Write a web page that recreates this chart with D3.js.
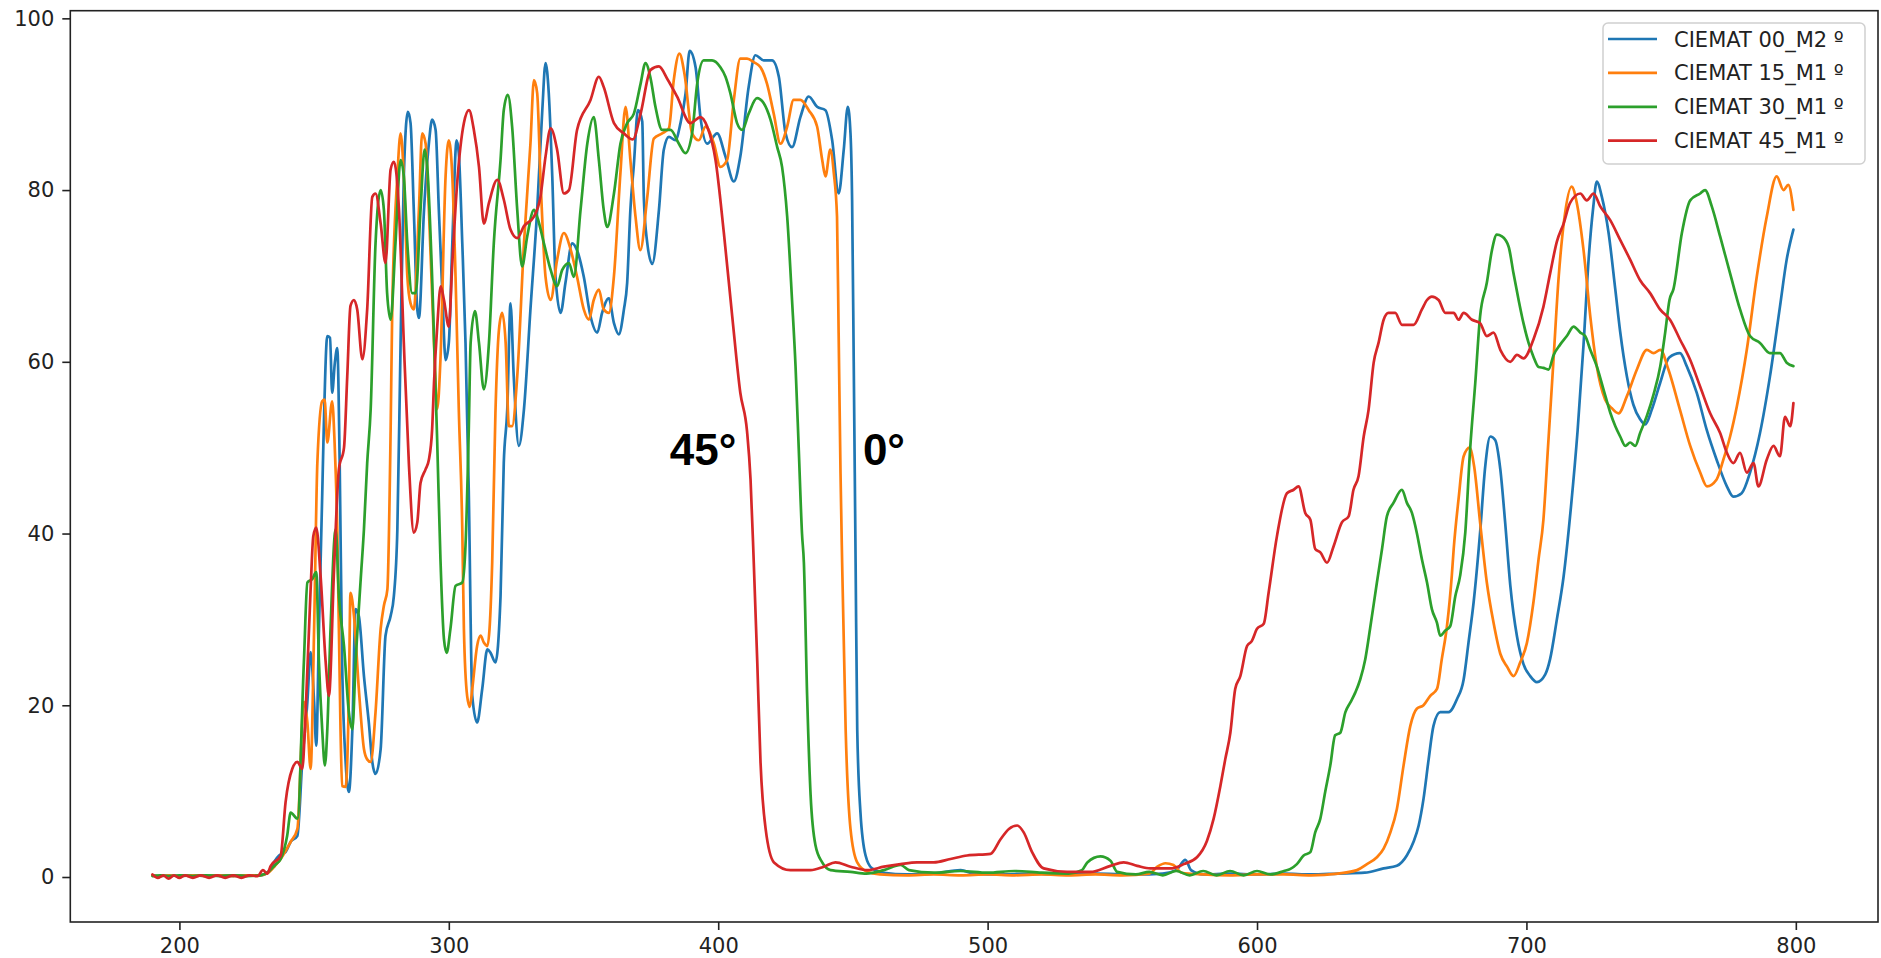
<!DOCTYPE html>
<html>
<head>
<meta charset="utf-8">
<script src="https://cdn.jsdelivr.net/npm/d3@7"></script>
<style>
  body { margin: 0; background: #fff; }
  svg { display: block; }
</style>
</head>
<body>
<script>
var w = 1881;
var h = 958;

// tick values
var xTicks = [200, 300, 400, 500, 600, 700, 800];
var yTicks = [0, 20, 40, 60, 80, 100];

var seriesNames = ["CIEMAT 00_M2 º", "CIEMAT 15_M1 º", "CIEMAT 30_M1 º", "CIEMAT 45_M1 º"];
var seriesColors = ["#1f77b4", "#ff7f0e", "#2ca02c", "#d62728"];

// [wavelength, transmittance]
var ciemat00 = [[190,0.2],[193,0.1],[196,0.2],[200,0.1],[205,0.2],[210,0.1],[215,0.2],[220,0.1],[225,0.2],[230,0.2],[233,0.6],[235,1.7],[237,2.5],[239.4,2.9],[241.3,4.1],[243.8,4.8],[245.6,13.4],[247.5,20.4],[248.7,26.2],[250,20.4],[250.8,15.3],[251.8,28.9],[253,44.4],[253.6,52.5],[254.9,63],[255.9,62.8],[256.7,56.4],[257.7,59.9],[258.6,61.6],[259.5,48],[260.4,25],[261.7,13.4],[262.9,9.9],[264.2,17.2],[265.4,31.2],[266.6,30.4],[268.5,23.4],[270.3,18],[271.6,13.4],[272.8,12],[274.7,14.9],[276.5,28.1],[278.4,30.4],[279.6,32.7],[280.9,40.5],[282.1,62.2],[283.3,81.6],[284.8,89.1],[285.8,87.8],[287,77.7],[288.3,66.1],[288.9,65.1],[290.8,77.7],[292.6,85.4],[293.8,88.2],[295.1,87],[296.3,77.7],[297.6,68],[298.8,60.2],[300,62.2],[301.3,73.8],[302.9,85.8],[303.7,84.3],[305,73.8],[306.2,62.2],[307.4,45],[308.7,21.1],[310.5,18],[312.4,21.9],[314.3,26.5],[315.5,26.1],[317.3,25],[319.2,32.7],[320.4,48.2],[321.7,54.5],[322.9,66.8],[324.1,58.3],[326,50.2],[327.9,54.5],[330.3,66.1],[332.8,77.7],[334.7,89.3],[335.9,94.8],[337.1,91.3],[338.4,81.6],[339.6,69.9],[341.5,65.7],[343.3,69.2],[345.8,73.8],[347.6,73],[350.1,69.9],[352.6,65.3],[355.1,63.4],[356.9,65.7],[359.4,67.4],[361.3,64.5],[363.1,63.2],[365,66.1],[366.2,69.2],[367.4,77.7],[368.7,83],[370.2,89.3],[371.8,88],[372.4,79],[373.6,74],[375.5,71.4],[378,77.7],[379.8,84.7],[381.7,86.2],[384.1,85.8],[386,87.8],[387.9,91.3],[389.4,96.2],[391.6,94.3],[393.4,88.5],[395.9,85.4],[399.6,86.6],[402.7,83.9],[405.8,81],[408.2,83.9],[411.3,92],[413.8,95.7],[416.9,95.1],[420,95.1],[422.5,93.2],[425,86.6],[427.4,85],[430.5,88.5],[433.6,90.9],[436.7,89.7],[439.8,89.3],[442.3,85.8],[444.7,79.6],[446.6,84.7],[448.1,89.7],[449.1,86.6],[449.7,78.8],[450.3,60],[451,36.6],[451.6,17.2],[452.8,7.5],[454.7,2.5],[457.1,1.0],[461.5,0.5],[470,0.3],[480,0.4],[490,0.8],[495,0.4],[505,0.3],[515,0.4],[525,0.3],[540,0.4],[555,0.3],[565,0.4],[570,0.8],[573.4,2.0],[575.5,0.8],[580,0.3],[590,0.4],[600,0.3],[610,0.4],[620,0.3],[630,0.4],[640,0.5],[647,1.0],[651.9,1.3],[655.6,2.5],[658.1,4.1],[660,6],[661.8,9.1],[663.7,13.7],[665.5,17.6],[668,19.2],[671.1,19.2],[674.2,20.7],[676.7,23],[678.5,27.3],[680.4,32],[682.8,40.1],[684.7,47.8],[686.6,51.3],[688.4,50.9],[690.3,47.5],[692.1,41.3],[694,34],[696.5,28],[698.9,24.8],[701.4,23.4],[703.9,22.7],[707,23.6],[708.8,25.4],[711.3,30],[713.8,35],[716.5,43],[719,52],[721.2,62],[723.1,72],[724.8,78],[726.1,81],[728,79.2],[730.5,75],[733,68.4],[734.8,63.5],[737.3,58.3],[739.7,55],[742.2,53.3],[744.1,52.7],[746.5,54.4],[749.6,57.5],[753,60.5],[757,61],[759.5,59.5],[763.2,56.4],[766.9,52.1],[770.6,48.6],[774.4,45.5],[776.8,44.3],[779.9,44.7],[783,47.1],[786.7,51.7],[790.4,58.3],[794.1,66.4],[796.6,71.9],[799.1,75.4]];

var ciemat15 = [[190,0.2],[193,0.1],[196,0.2],[200,0.1],[205,0.2],[210,0.1],[215,0.2],[220,0.1],[225,0.2],[230,0.2],[233,0.5],[235.5,1.3],[237.6,2.1],[241.3,4.1],[243.8,5.6],[246.2,20.4],[247.5,18],[248.7,12.6],[250,28.9],[251.2,48.2],[253,55.4],[253.9,55.6],[254.9,50.6],[256.7,55.4],[257.6,50.6],[258.6,40.5],[259.8,17.2],[260.4,10.6],[261.7,10.5],[262.9,21.1],[263.5,33.1],[264.8,30.4],[266.6,21.9],[268.5,14.9],[269.7,13.7],[271,13.4],[272.8,19.2],[274.7,28.9],[275.9,31.6],[277.2,33.5],[278.4,52],[279,66.1],[280.9,81.6],[282.1,86.6],[283.3,81.6],[284.6,70],[285.8,66.8],[287,66.1],[288.9,77.7],[290.1,86.6],[291.4,85.4],[292.6,77.7],[294.5,62.2],[295.7,54.5],[296.9,60.3],[298.8,81.6],[300,85.8],[301.3,81.6],[302.5,69.9],[303.7,54.5],[305,40.5],[305.6,28.9],[306.8,21.1],[307.8,19.8],[308.7,21.9],[310.5,26.9],[311.8,28.1],[313,27.3],[314.3,26.9],[316.1,36.6],[317.3,54],[318.6,63.7],[319.8,65.7],[321.1,62.2],[322.3,52.5],[323.5,52.5],[325.4,58.3],[327.9,73.8],[330.3,85.4],[331.6,92.8],[332.8,91.3],[334,81.6],[335.9,69.9],[337.8,67.2],[340.2,71.9],[342.7,75],[345.2,73.1],[347.6,69.9],[350.1,66.1],[352,64.9],[353.8,67.2],[355.7,68.4],[357.5,66.1],[359.4,65.7],[361.3,70],[363.7,82],[365.6,89.7],[367.4,83.5],[369.3,76.9],[371.1,73],[373.6,79],[376.1,86],[379.2,86.6],[381.7,87.2],[383.5,92.8],[385.6,95.9],[387.5,93.5],[390.3,86.6],[392.8,85.8],[395.3,87.4],[398.4,85.4],[400.8,82.7],[403.3,83.5],[405.8,90.5],[408.2,95.3],[410.7,95.3],[413.2,94.9],[415.7,94.3],[418.1,92.4],[420.6,88.9],[423.1,85.4],[425.6,87.4],[428,90.5],[430.5,90.5],[433.6,89.3],[436.7,87.4],[438.6,83.5],[439.8,81.6],[441.6,84.7],[442.9,82],[444.1,76.9],[444.7,63.3],[445.4,47],[446,36.6],[447.3,17.2],[449.1,5.6],[451.6,1.7],[455.3,0.6],[460,0.3],[470,0.2],[480,0.3],[490,0.2],[500,0.3],[510,0.2],[520,0.3],[530,0.2],[540,0.3],[550,0.2],[560,0.4],[563,1.2],[566,1.6],[569,1.4],[572,0.5],[580,0.3],[590,0.2],[600,0.3],[610,0.3],[620,0.2],[630,0.4],[637.1,0.8],[640.8,1.5],[644.5,2.3],[647,3.3],[649.5,5.2],[651.9,7.9],[654.4,13],[656.9,17.6],[659.3,19.6],[661.8,20],[664.3,21.1],[666.8,21.9],[668.6,25.4],[670.5,29.2],[672.3,35.1],[673,38.2],[674.8,44],[676.7,49],[678.9,50],[680.6,47.8],[682.8,41.3],[685.3,34.3],[687.8,29.6],[690.3,26],[692.8,24.5],[695.2,23.4],[697.7,25],[700.2,27.3],[702.6,32],[704.5,37],[706.3,41.6],[708,50],[710,60],[712,70],[714,76.5],[716.8,80.4],[718.7,78.5],[721.2,73],[723.7,65.3],[726.1,59.5],[729.2,55.6],[731.7,54.6],[734.2,54],[737.3,56],[741,59.1],[744.7,61.4],[747.2,61],[749.7,61.4],[752.7,59.1],[757,54.4],[760.8,50.2],[764.5,47.1],[767,45.5],[770.6,46.3],[773.1,48.6],[775.6,51.3],[778.1,54.8],[781.8,61.4],[785.5,69.9],[789.2,76.9],[792.9,81.6],[795.4,80],[797.2,80.6],[799.1,77.7]];

var ciemat30 = [[190,0.1],[193,0.2],[196,0.1],[200,0.2],[205,0.1],[210,0.2],[215,0.1],[220,0.2],[225,0.1],[230,0.2],[233,0.6],[235.5,1.4],[237.6,2.1],[240,4.8],[241.3,7.5],[243.8,6.8],[246.2,25],[247.5,34.3],[249.3,34.7],[250.8,35.5],[251.8,25],[253,17.2],[254,13],[254.9,17.2],[256.1,28.9],[258,40.5],[259.2,32.7],[261.1,26.9],[262.9,19.2],[264.2,17.2],[265.4,25],[267.3,34.7],[268.5,40.5],[269.7,48.2],[271,54.5],[272.8,73.8],[274.7,80],[275.9,77.7],[277.1,68],[278.4,64.9],[280.2,73.8],[282.1,83.5],[283.3,81.6],[284.6,73.8],[286.4,68],[287.7,68],[289.5,77.7],[291,84.7],[292,82.7],[293.8,69.9],[295.7,50.6],[296.9,37],[298.2,27.7],[299.2,26.1],[300.6,28.9],[302.5,33.9],[305,34.3],[306.2,38.6],[307.4,52],[308.1,62.2],[309.7,65.9],[311.2,62.2],[313,56.8],[314.9,62.2],[316.7,73.8],[319.2,83.5],[320.4,89.3],[321.9,91.1],[323.5,87.4],[325.4,77.7],[327.2,71.1],[329.1,74.6],[331.6,77.7],[332.8,76.9],[335.3,73.8],[337.8,70.7],[340.2,68.8],[342.1,70.7],[344.6,71.5],[346.4,69.9],[348.9,77.7],[351.4,85.4],[353.8,88.5],[355.7,83.5],[357.5,77.7],[358.8,75.7],[361.3,79.6],[363.7,85.4],[366.2,87.8],[368.7,88.9],[371.2,92.4],[373,94.8],[374.9,93],[376.7,89.7],[379.2,87],[382.3,87],[385.4,85.4],[387.8,84.3],[390.3,86.6],[392.2,92.4],[394.6,95.1],[397.7,95.1],[400.8,94.3],[402.7,93.2],[404.5,91.3],[407,87.8],[408.9,87],[411.3,88.9],[414.4,90.7],[416.9,90.1],[419.4,88.2],[421.9,85],[423.7,82.7],[425.6,76.9],[427.4,67.2],[428.7,59.5],[429.9,49.8],[431.1,40],[431.8,36.6],[433,21.1],[434.3,9.5],[436.1,3.7],[438.6,1.7],[441.7,0.8],[449.1,0.6],[455,0.4],[461.5,0.8],[467.7,1.4],[470.8,0.8],[480,0.5],[490,0.7],[500,0.5],[510,0.7],[520,0.5],[530,0.4],[535,0.8],[537,1.7],[541.9,2.4],[545.6,1.9],[548.1,0.6],[555,0.3],[560,0.6],[565,0.2],[570,0.7],[575,0.2],[580,0.7],[585,0.2],[590,0.7],[595,0.2],[600,0.7],[605,0.3],[610,0.7],[612.4,0.95],[614.8,1.5],[617.3,2.5],[619.8,2.9],[621.6,5.2],[623.5,6.8],[625.3,9.9],[627.2,13],[629,16.5],[630.9,16.8],[632.8,19.2],[634.6,20.3],[636.5,21.5],[638.3,23],[640.2,25.4],[642,29],[644.5,34.3],[646.4,38.2],[648.2,42],[650.7,43.6],[653.8,45.1],[655.6,43.6],[657.5,42.4],[659.3,40.1],[661.2,37],[663.1,34.3],[664.9,31.2],[666.8,29.6],[668,28.1],[669.9,28.7],[671.7,29.2],[673.6,32.7],[675.4,35.1],[677.3,40.1],[679.1,49.8],[681,57.5],[682.8,65.3],[685.3,69.2],[687.2,73],[689,74.8],[690.9,74.6],[693.4,73.4],[695.2,70.3],[697.1,67.2],[698.9,64.5],[700.8,62.2],[702.6,60.6],[704.5,59.4],[706.3,59.3],[708.2,59.1],[710.1,60.8],[712.5,62],[715,63],[717.5,64.1],[720,63.4],[721.8,63],[723.7,61.4],[726.1,59.5],[728.6,56.8],[731.1,54.1],[733,52.5],[734.8,51.3],[736.7,50.2],[738.5,50.6],[740.4,50.2],[742.2,51.7],[744.7,53.7],[747.2,56.2],[749.7,59.5],[751.5,63.4],[753.1,67.2],[754.6,68.5],[757.7,75],[760.8,78.8],[764.5,79.6],[766.3,80],[768.8,78.1],[771.9,74.6],[775.6,70.3],[779.3,66.1],[783,63],[786.7,62.2],[790.4,61],[794.1,61],[796.6,59.9],[799.1,59.5]];

var ciemat45 = [[190,0.3],[192,-0.1],[194,0.2],[196,-0.2],[198,0.2],[200,-0.1],[202,0.2],[205,-0.1],[208,0.2],[211,-0.1],[214,0.2],[217,-0.1],[220,0.2],[223,-0.1],[226,0.2],[229,0.1],[231,0.8],[232.6,0.4],[233.9,1.3],[237.6,2.5],[239.4,8.7],[241.9,12.6],[243.8,13.4],[245.6,12.6],[246.8,18.8],[248.7,33.5],[249.7,39.7],[250.8,40.7],[252.4,35.1],[254.3,25],[255.5,21.1],[257.4,35.8],[259.2,47.5],[261.1,50],[262.3,58.3],[263.5,66.5],[264.8,67.2],[266,66.1],[267.9,60.3],[269.7,66.1],[271.6,79.2],[272.8,79.6],[274.7,76.1],[276.5,71.5],[278.4,82.4],[279.6,83.3],[281.5,77.7],[283.3,62.2],[285.2,48],[287,40.1],[288.3,41.3],[289.5,45.9],[291.4,47.5],[292.6,48.6],[293.8,52.1],[294.5,57.5],[295.7,64.1],[297,68.8],[298.2,67.2],[300,64.1],[301.3,71.5],[303.1,80.8],[305.6,87.8],[307.5,89.3],[309.3,87],[311.2,82.7],[313,76.1],[314.9,78.5],[318,81.2],[320.4,78.9],[322.9,75.4],[325.4,74.4],[327.9,75.8],[331.6,76.9],[334,79.2],[335.9,83.9],[337.8,87.2],[340.2,84.7],[342.7,79.6],[344.6,80],[347.6,87],[352.6,90.5],[355.7,93.2],[357.5,92],[361.3,87.8],[365,86.6],[368.3,85.9],[371.2,88.9],[374.9,94],[378,94.4],[381,93],[384.7,90.9],[389.7,87.8],[393.4,88.5],[395.9,87.4],[399,83.5],[402.1,75],[405.2,65.3],[408.2,56.4],[410.7,51.9],[412,46.3],[413.2,36.6],[414.5,25],[415.7,13.4],[417.6,5.6],[420.7,1.7],[426.8,0.8],[434.3,0.8],[439.2,1.2],[443.5,1.7],[449.1,1.2],[455.3,0.8],[461.5,1.2],[467.7,1.5],[473.8,1.7],[480,1.7],[486.2,2.1],[492.4,2.5],[501.1,2.7],[504.8,4.4],[507.9,5.6],[511,6.0],[513.4,5.2],[516.5,2.9],[520.8,1],[529.5,0.6],[538.2,0.6],[545.6,1.3],[550.5,1.7],[555.5,1.3],[560.4,1],[567.8,1],[572.8,1.5],[577.7,2.3],[581.4,4.2],[583.9,6.8],[586.4,10.6],[588.2,13.7],[590.1,16.8],[591.9,21.9],[593.8,23.4],[596.3,26.9],[598.1,27.5],[600,28.9],[602.5,29.5],[604.3,33.1],[607.4,39.7],[611.1,44.7],[613.6,45.1],[615.4,45.5],[617.9,42.4],[619.8,41.6],[621.6,38.2],[623.5,37.8],[626,36.6],[628.4,38.5],[631.5,41.3],[634,42],[635.8,45.1],[637.7,46.7],[639.6,51.3],[641.4,54.4],[643.3,59.9],[645.1,62.2],[647,64.9],[648.8,65.7],[651.3,65.7],[653.8,64.3],[658.1,64.3],[661.2,66.1],[663.1,67.2],[664.9,67.6],[667.4,67.2],[669.9,65.7],[673,65.7],[674.8,64.9],[676.7,65.7],[679.8,64.9],[682.8,64.5],[685.3,63],[687.8,63.4],[690.3,61.4],[694,60],[696.5,60.8],[698.9,60.4],[702.6,62.6],[706.3,66.4],[708.8,70.3],[711.3,74],[713.8,76.1],[716.2,78.5],[720,79.6],[722.4,78.8],[724.9,79.6],[727.4,78.1],[731.1,76.5],[734.8,74.2],[738.5,71.9],[742.2,69.5],[745.9,68],[749.6,66.1],[753.3,64.9],[757,62.6],[760.8,60.2],[764.5,57.1],[768.2,54],[771.9,51.7],[774.4,49.4],[776.8,48.2],[779.3,49.4],[781.8,47.1],[784.3,48.2],[786.1,45.5],[789.2,48.6],[791.7,50.2],[794.1,49],[796,53.6],[797.9,52.5],[799.1,55.2]];

var allSeries = [ciemat00, ciemat15, ciemat30, ciemat45];

// angle labels written on the plot, placed in data units
var angleLabels = [{"text":"45°", "x":382, "y":48}, {"text":"0°", "x":453.7, "y":48}];

// plot box
var plotLeft = 70.3, plotRight = 1878, plotTop = 10.7, plotBottom = 922;

var svg = d3.select("body").append("svg")
            .attr("width", w)
            .attr("height", h);

svg.append("rect").attr("width", w).attr("height", h).attr("fill", "#fff");

var x = d3.scaleLinear().domain([159.5, 830.5]).range([plotLeft, plotRight]);
var y = d3.scaleLinear().domain([-5.24, 100.89]).range([plotBottom, plotTop]);

svg.append("clipPath").attr("id", "plotclip")
   .append("rect")
   .attr("x", plotLeft).attr("y", plotTop)
   .attr("width", plotRight - plotLeft).attr("height", plotBottom - plotTop);

var line = d3.line()
             .x(function(d){ return x(d[0]); })
             .y(function(d){ return y(d[1]); })
             .curve(d3.curveMonotoneX);

var lineGroup = svg.append("g").attr("clip-path", "url(#plotclip)");

lineGroup.selectAll("path")
         .data(allSeries)
         .enter()
         .append("path")
         .attr("d", line)
         .attr("fill", "none")
         .attr("stroke", function(d, i){ return seriesColors[i]; })
         .attr("stroke-width", 2.7)
         .attr("stroke-linejoin", "round")
         .attr("stroke-linecap", "round");

// axes
var xAxis = d3.axisBottom(x).tickValues(xTicks).tickSize(8).tickSizeOuter(0).tickPadding(8);
var yAxis = d3.axisLeft(y).tickValues(yTicks).tickSize(8).tickSizeOuter(0).tickPadding(8);

var gx = svg.append("g").attr("transform", "translate(0," + plotBottom + ")").call(xAxis);
var gy = svg.append("g").attr("transform", "translate(" + plotLeft + ",0)").call(yAxis);

[gx, gy].forEach(function(g){
  g.select(".domain").remove();
  g.selectAll(".tick line").attr("stroke", "#222").attr("stroke-width", 1.6);
  g.selectAll(".tick text")
   .attr("fill", "#222")
   .style("font-family", "'DejaVu Sans', sans-serif")
   .style("font-size", "21px");
});

// frame
svg.append("rect")
   .attr("x", plotLeft).attr("y", plotTop)
   .attr("width", plotRight - plotLeft).attr("height", plotBottom - plotTop)
   .attr("fill", "none")
   .attr("stroke", "#222")
   .attr("stroke-width", 1.6);

// angle labels
svg.selectAll(".angle")
   .data(angleLabels)
   .enter()
   .append("text")
   .attr("class", "angle")
   .attr("x", function(d){ return x(d.x); })
   .attr("y", function(d){ return y(d.y); })
   .style("font-family", "'Liberation Sans', Arial, sans-serif")
   .style("font-weight", "bold")
   .style("font-size", "44px")
   .attr("fill", "#000")
   .text(function(d){ return d.text; });

// legend
var legend = svg.append("g").attr("transform", "translate(1603,23)");

legend.append("rect")
      .attr("width", 262).attr("height", 141)
      .attr("rx", 5).attr("ry", 5)
      .attr("fill", "#fff").attr("fill-opacity", 0.8)
      .attr("stroke", "#d0d0d0").attr("stroke-width", 1.5);

var items = legend.selectAll(".item")
                  .data(seriesNames)
                  .enter()
                  .append("g")
                  .attr("class", "item")
                  .attr("transform", function(d, i){ return "translate(0," + (16 + i * 33.9) + ")"; });

items.append("line")
     .attr("x1", 5).attr("x2", 54)
     .attr("stroke", function(d, i){ return seriesColors[i]; })
     .attr("stroke-width", 2.7);

items.append("text")
     .attr("x", 71).attr("y", 7.5)
     .attr("fill", "#222")
     .style("font-family", "'DejaVu Sans', sans-serif")
     .style("font-size", "21px")
     .text(function(d){ return d; });
</script>
</body>
</html>
